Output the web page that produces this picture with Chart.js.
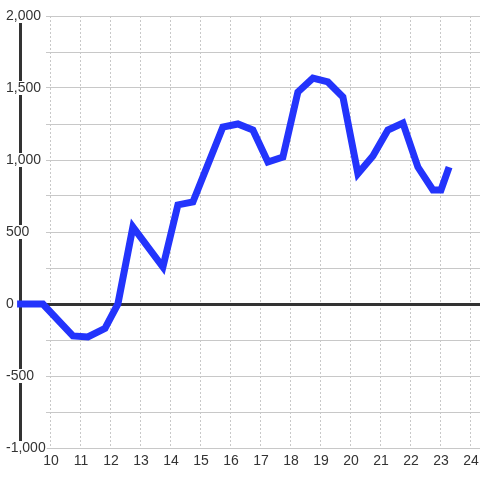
<!DOCTYPE html>
<html>
<head>
<meta charset="utf-8">
<script src="https://cdn.jsdelivr.net/npm/chart.js@4"></script>
<style>
  body { margin: 0; background: #fff; }
  canvas { display: block; }
</style>
</head>
<body>
<canvas id="chart" width="480" height="480"></canvas>
<script>
// values
const xValues = [8.87, 9.73, 10.73, 11.23, 11.8, 12.23, 12.73, 13.73, 14.23, 14.73, 15.73, 16.23, 16.73,
                 17.23, 17.73, 18.23, 18.73, 19.23, 19.73, 20.23, 20.73, 21.23, 21.73, 22.23, 22.73, 23.0, 23.27];
const yValues = [0, 0, -222, -229, -170, 0, 535, 257, 688, 708, 1229, 1250, 1208,
                 986, 1021, 1472, 1569, 1542, 1438, 905, 1028, 1208, 1257, 951, 792, 792, 951];

const xTicks = [10, 11, 12, 13, 14, 15, 16, 17, 18, 19, 20, 21, 22, 23, 24];
const yTicks = [-1000, -750, -500, -250, 0, 250, 500, 750, 1000, 1250, 1500, 1750, 2000];
const yLabelValues = [-1000, -500, 0, 500, 1000, 1500, 2000];
const yLabels = ['-1,000', '-500', '0', '500', '1,000', '1,500', '2,000'];

const points = xValues.map((x, i) => ({ x: x, y: yValues[i] }));
const font = { family: '"Liberation Sans", Arial, sans-serif', size: 14, lineHeight: 1 };

// white strip left of the grid, under the line and labels
const gridGap = {
    id: 'gridGap',
    beforeDatasetsDraw(chart) {
        const a = chart.chartArea;
        const ctx = chart.ctx;
        ctx.save();
        ctx.fillStyle = '#fff';
        ctx.fillRect(a.left + 2, a.top - 1, 24, a.bottom - a.top + 2);
        ctx.restore();
    }
};

new Chart(document.getElementById('chart'), {
    type: 'line',
    data: {
        datasets: [{
            data: points,
            borderColor: '#2334fc',
            borderWidth: 7,
            pointRadius: 0,
            tension: 0,
            clip: false
        }]
    },
    options: {
        responsive: false,
        animation: false,
        layout: { padding: { top: 16, right: 0, left: 0, bottom: 0 } },
        plugins: { legend: { display: false }, tooltip: { enabled: false } },
        scales: {
            x: {
                type: 'linear',
                min: 8.967,
                max: 24.3,
                afterBuildTicks: s => { s.ticks = xTicks.map(v => ({ value: v })); },
                afterFit: s => { s.height = 32; s.paddingRight = 0; s.paddingLeft = 0; },
                grid: { color: '#c8c8c8', lineWidth: 1, drawTicks: false },
                border: { display: false, dash: [2, 2] },
                ticks: { color: '#333', font: font, padding: 6, maxRotation: 0, autoSkip: false }
            },
            y: {
                min: -1000,
                max: 2000,
                afterBuildTicks: s => { s.ticks = yTicks.map(v => ({ value: v })); },
                afterFit: s => { s.width = 20; },
                grid: {
                    drawTicks: false,
                    color: c => c.tick && c.tick.value === 0 ? '#333' : '#c8c8c8',
                    lineWidth: c => c.tick && c.tick.value === 0 ? 3 : 1
                },
                border: { display: true, color: '#333', width: 3 },
                ticks: {
                    z: 1,
                    mirror: true,
                    padding: -14,
                    color: '#333',
                    font: font,
                    showLabelBackdrop: true,
                    backdropColor: '#fff',
                    backdropPadding: { left: 1, right: 1, top: 0, bottom: 0 },
                    callback: v => {
                        const i = yLabelValues.indexOf(v);
                        return i >= 0 ? yLabels[i] : '';
                    }
                }
            }
        }
    },
    plugins: [gridGap]
});
</script>
</body>
</html>
